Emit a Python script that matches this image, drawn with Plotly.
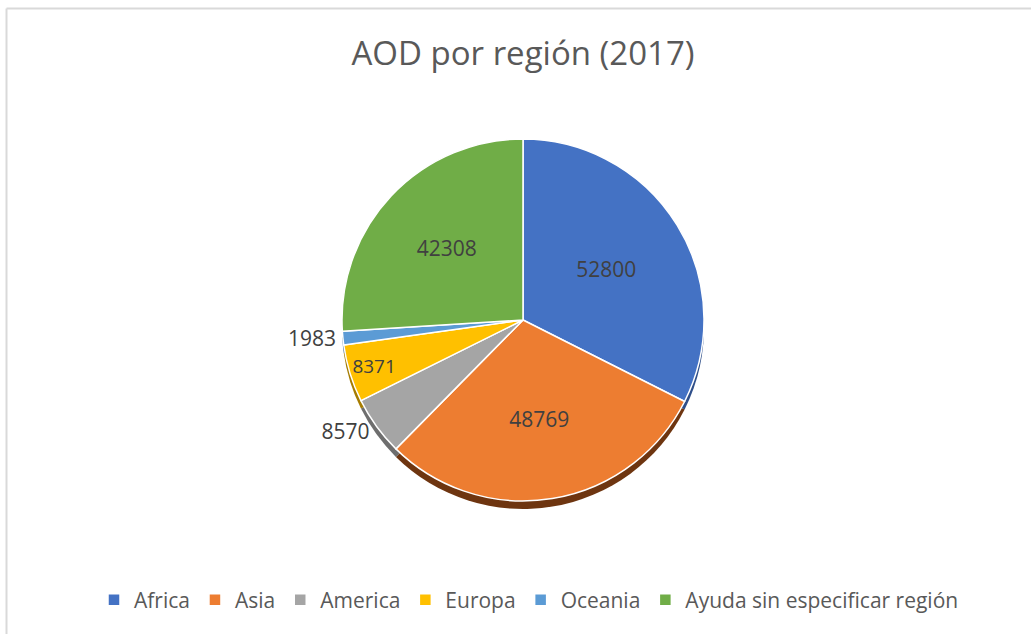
import plotly.graph_objects as go

regions = ["Africa", "Asia", "America", "Europa", "Oceania", "Ayuda sin especificar región"]
values = [52800, 48769, 8570, 8371, 1983, 42308]
colors = ["#4472C4", "#ED7D31", "#A5A5A5", "#FFC000", "#5B9BD5", "#70AD47"]
shadow_colors = ["#2F4F8A", "#6E3510", "#6E6E6E", "#A67C00", "#3E6B94", "#4B7530"]
text_pos = ["inside", "inside", "outside", "inside", "outside", "inside"]

W, H = 1031, 634
cx, cy, r = 523, 320, 181

def dom(cx, cy, r):
    return dict(x=[(cx - r) / W, (cx + r) / W], y=[(H - cy - r) / H, (H - cy + r) / H])

lab_font = dict(family="Open Sans", size=21, color="#404040")

fig = go.Figure()
# shadow (3D depth)
fig.add_trace(go.Pie(
    labels=regions, values=values, sort=False, direction="clockwise", rotation=0,
    marker=dict(colors=shadow_colors, line=dict(width=0)),
    textinfo="none", hoverinfo="skip", showlegend=False,
    domain=dom(cx, cy + 8, r),
))
fig.add_trace(go.Pie(
    labels=regions, values=values, sort=False, direction="clockwise", rotation=0,
    marker=dict(colors=colors, line=dict(color="white", width=1.5)),
    texttemplate="%{value:.0f}", textposition=text_pos, insidetextorientation="horizontal",
    textfont=lab_font, outsidetextfont=lab_font, insidetextfont=lab_font,
    domain=dom(cx, cy, r),
))

fig.update_layout(
    width=W, height=H,
    margin=dict(l=0, r=0, t=0, b=0),
    paper_bgcolor="white",
    font=dict(family="Open Sans", color="#595959"),
    title=dict(text="AOD por región (2017)", x=523 / W, xanchor="center", y=1 - 53 / H, yanchor="middle",
               font=dict(family="Open Sans", size=33, color="#595959")),
    legend=dict(orientation="h", x=529 / W, xanchor="center", y=1 - 600 / H, yanchor="middle",
                font=dict(family="Open Sans", size=21, color="#595959"), traceorder="normal"),
    shapes=[
        dict(type="line", xref="paper", yref="paper", x0=6.5 / W, x1=6.5 / W, y0=0, y1=1 - 8.5 / H,
             line=dict(color="#D9D9D9", width=2)),
        dict(type="line", xref="paper", yref="paper", x0=6.5 / W, x1=1, y0=1 - 8.5 / H, y1=1 - 8.5 / H,
             line=dict(color="#D9D9D9", width=2)),
    ],
)

fig.write_html("out.html", config={"displayModeBar": False},
               post_script="document.body.style.margin='0';document.body.style.overflow='hidden';")
